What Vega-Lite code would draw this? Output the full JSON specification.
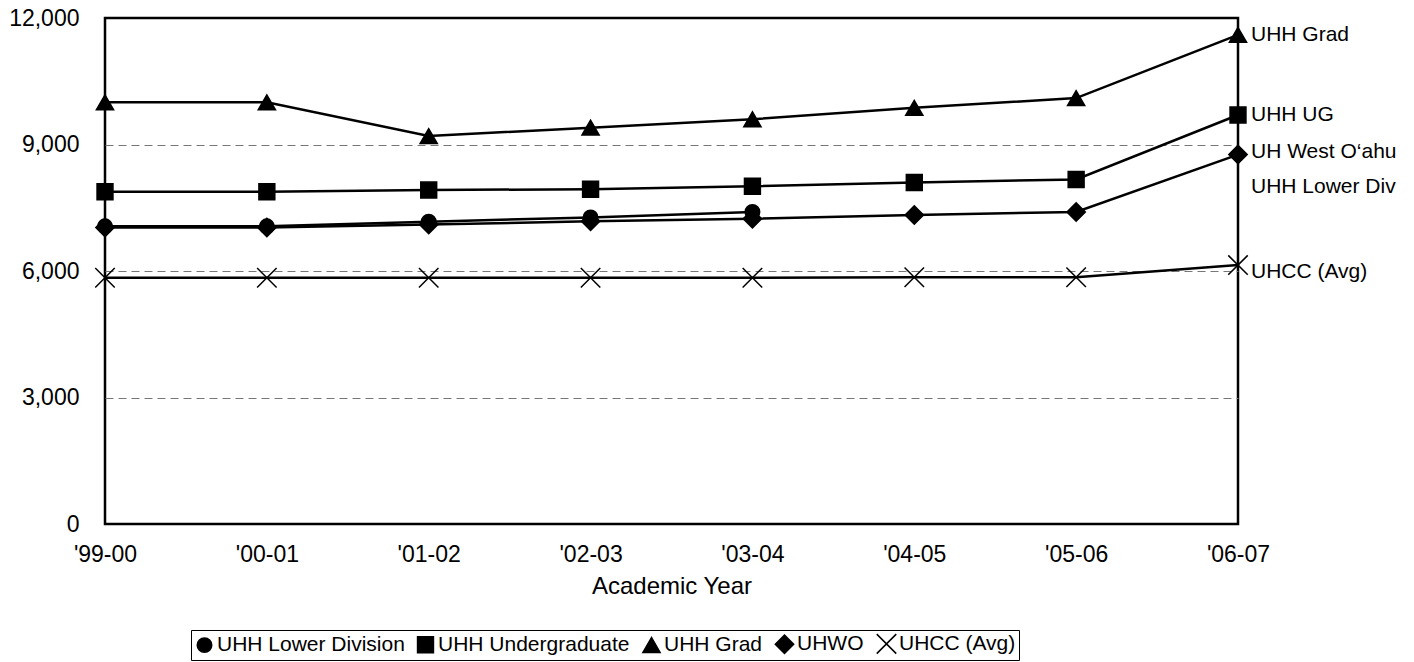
{
  "$schema": "https://vega.github.io/schema/vega-lite/v6.json",
  "width": 1133,
  "height": 506,
  "autosize": {"type": "none"},
  "padding": {"left": 105, "top": 18, "right": 176, "bottom": 138},
  "background": "white",
  "config": {
    "font": "Liberation Sans",
    "view": {"stroke": "black", "strokeWidth": 2.5},
    "axis": {"labelFont": "Liberation Sans", "titleFont": "Liberation Sans", "labelColor": "black", "titleColor": "black", "titleFontWeight": "normal"}
  },
  "datasets": {
    "series": [
      {"year": "'99-00", "series": "UHH Lower Division", "value": 7060},
      {"year": "'00-01", "series": "UHH Lower Division", "value": 7060},
      {"year": "'01-02", "series": "UHH Lower Division", "value": 7170},
      {"year": "'02-03", "series": "UHH Lower Division", "value": 7270},
      {"year": "'03-04", "series": "UHH Lower Division", "value": 7400},
      {"year": "'99-00", "series": "UHH Undergraduate", "value": 7880},
      {"year": "'00-01", "series": "UHH Undergraduate", "value": 7880},
      {"year": "'01-02", "series": "UHH Undergraduate", "value": 7920},
      {"year": "'02-03", "series": "UHH Undergraduate", "value": 7940},
      {"year": "'03-04", "series": "UHH Undergraduate", "value": 8010},
      {"year": "'04-05", "series": "UHH Undergraduate", "value": 8100},
      {"year": "'05-06", "series": "UHH Undergraduate", "value": 8170},
      {"year": "'06-07", "series": "UHH Undergraduate", "value": 9700},
      {"year": "'99-00", "series": "UHH Grad", "value": 10000},
      {"year": "'00-01", "series": "UHH Grad", "value": 10000},
      {"year": "'01-02", "series": "UHH Grad", "value": 9200},
      {"year": "'02-03", "series": "UHH Grad", "value": 9400},
      {"year": "'03-04", "series": "UHH Grad", "value": 9600},
      {"year": "'04-05", "series": "UHH Grad", "value": 9870},
      {"year": "'05-06", "series": "UHH Grad", "value": 10100},
      {"year": "'06-07", "series": "UHH Grad", "value": 11600},
      {"year": "'99-00", "series": "UHWO", "value": 7030},
      {"year": "'00-01", "series": "UHWO", "value": 7030},
      {"year": "'01-02", "series": "UHWO", "value": 7100},
      {"year": "'02-03", "series": "UHWO", "value": 7180},
      {"year": "'03-04", "series": "UHWO", "value": 7240},
      {"year": "'04-05", "series": "UHWO", "value": 7330},
      {"year": "'05-06", "series": "UHWO", "value": 7400},
      {"year": "'06-07", "series": "UHWO", "value": 8760},
      {"year": "'99-00", "series": "UHCC (Avg)", "value": 5840},
      {"year": "'00-01", "series": "UHCC (Avg)", "value": 5840},
      {"year": "'01-02", "series": "UHCC (Avg)", "value": 5840},
      {"year": "'02-03", "series": "UHCC (Avg)", "value": 5840},
      {"year": "'03-04", "series": "UHCC (Avg)", "value": 5840},
      {"year": "'04-05", "series": "UHCC (Avg)", "value": 5850},
      {"year": "'05-06", "series": "UHCC (Avg)", "value": 5850},
      {"year": "'06-07", "series": "UHCC (Avg)", "value": 6140}
    ],
    "labels": [
      {"year": "'06-07", "label": "UHH Grad", "value": 11600},
      {"year": "'06-07", "label": "UHH UG", "value": 9700},
      {"year": "'06-07", "label": "UH West O‘ahu", "value": 8820},
      {"year": "'06-07", "label": "UHH Lower Div", "value": 7990},
      {"year": "'06-07", "label": "UHCC (Avg)", "value": 5980}
    ]
  },
  "encoding": {
    "x": {
      "field": "year", "type": "ordinal",
      "scale": {"type": "point", "padding": 0, "domain": ["'99-00", "'00-01", "'01-02", "'02-03", "'03-04", "'04-05", "'05-06", "'06-07"]},
      "axis": {"title": "Academic Year", "labelAngle": 0, "ticks": false, "domain": false, "grid": false, "labelFontSize": 23, "labelPadding": 19, "titleFontSize": 24, "titlePadding": 8}
    },
    "y": {
      "field": "value", "type": "quantitative",
      "scale": {"domain": [0, 12000], "nice": false, "zero": true},
      "axis": {
        "title": null, "values": [0, 3000, 6000, 9000, 12000], "format": ",d", "ticks": false, "domain": false,
        "labelFontSize": 23, "labelPadding": 26, "grid": true, "gridDash": [8, 5], "gridWidth": 1,
        "gridColor": {"condition": {"test": "datum.value === 0 || datum.value === 12000", "value": "transparent"}, "value": "#777777"}
      }
    }
  },
  "layer": [
    {
      "data": {"name": "series"},
      "mark": {"type": "line", "color": "black", "strokeWidth": 2.5},
      "encoding": {"detail": {"field": "series", "type": "nominal"}}
    },
    {
      "data": {"name": "series"},
      "mark": {"type": "point", "filled": true, "fill": "black", "stroke": "black", "strokeWidth": 1.5, "opacity": 1},
      "encoding": {
        "shape": {
          "field": "series", "type": "nominal",
          "scale": {
            "domain": ["UHH Lower Division", "UHH Undergraduate", "UHH Grad", "UHWO", "UHCC (Avg)"],
            "range": ["circle", "square", "triangle-up", "diamond", "M-1,-1L1,1M-1,1L1,-1"]
          },
          "legend": {
            "title": null, "orient": "none", "legendX": 86, "legendY": 612, "direction": "horizontal", "columns": 5,
            "strokeColor": "black", "padding": 3, "labelFontSize": 21, "labelFont": "Liberation Sans", "labelColor": "black",
            "labelLimit": 0,
            "symbolFillColor": "black", "symbolStrokeColor": "black", "symbolStrokeWidth": 1.5,
            "labelOffset": 2, "columnPadding": 9
          }
        },
        "size": {
          "field": "series", "type": "ordinal",
          "scale": {"domain": ["UHH Lower Division", "UHH Undergraduate", "UHH Grad", "UHWO", "UHCC (Avg)"], "range": [210, 380, 420, 360, 576]}
        }
      }
    },
    {
      "data": {"name": "labels"},
      "mark": {"type": "text", "align": "left", "baseline": "middle", "dx": 13, "fontSize": 21, "font": "Liberation Sans", "color": "black"},
      "encoding": {"text": {"field": "label", "type": "nominal"}}
    }
  ]
}
